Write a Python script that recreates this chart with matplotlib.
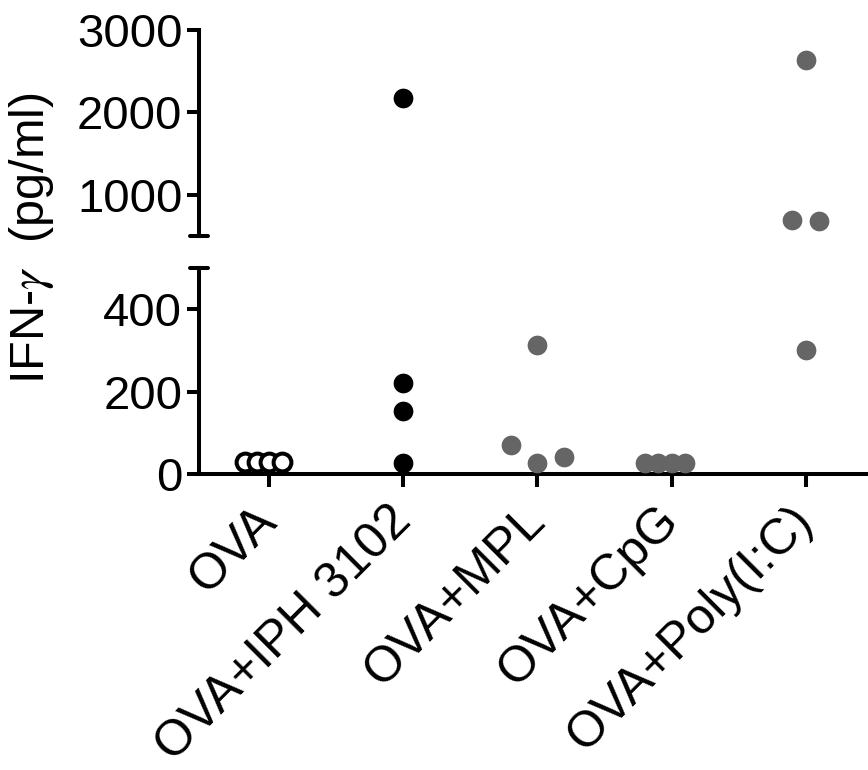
import matplotlib

matplotlib.use("Agg")

import matplotlib.pyplot as plt
from matplotlib.transforms import ScaledTranslation

plt.rcParams["font.family"] = ["Liberation Sans", "DejaVu Sans"]
plt.rcParams["mathtext.fontset"] = "stix"

# categories and tick labels
groups = ["OVA", "OVA+IPH 3102", "OVA+MPL", "OVA+CpG", "OVA+Poly(I:C)"]
upper_ticks = [1000, 2000, 3000]
lower_ticks = [0, 200, 400]

# per-group values (pg/ml) and horizontal scatter offsets (category units)
ova_vals = [29, 29, 29, 29]
ova_dx = [-0.18, -0.09, 0.0, 0.1]
iph_vals = [2170, 222, 154, 27]
iph_dx = [0.0, 0.0, 0.0, 0.0]
mpl_vals = [314, 71, 27, 41]
mpl_dx = [0.0, -0.2, 0.0, 0.2]
cpg_vals = [27, 27, 27, 27]
cpg_dx = [-0.2, -0.1, 0.0, 0.1]
poly_vals = [2630, 700, 680, 300]
poly_dx = [0.0, -0.1, 0.1, 0.0]

BLACK = "#000000"
GREY = "#656565"
LW = 2.9

fig = plt.figure(figsize=(8.68, 7.7), dpi=100)
left = 199 / 868
ax_hi = fig.add_axes([left, (770 - 236) / 770, 1 - left, 206 / 770])
ax_lo = fig.add_axes([left, (770 - 474) / 770, 1 - left, 206 / 770])

xlim = (-0.522, 4.463)
for ax in (ax_hi, ax_lo):
    ax.set_xlim(*xlim)
    for s in ("top", "right"):
        ax.spines[s].set_visible(False)
    ax.spines["left"].set_linewidth(LW)
    ax.spines["bottom"].set_linewidth(LW)
    ax.tick_params(axis="both", width=LW, length=9, labelsize=34, pad=3)
    ax.patch.set_alpha(0)

ax_hi.set_ylim(500, 3000)
ax_lo.set_ylim(0, 500)
ax_hi.set_yticks(upper_ticks)
ax_lo.set_yticks(lower_ticks)
ax_hi.spines["bottom"].set_visible(False)
ax_hi.tick_params(axis="x", bottom=False, labelbottom=False)

ax_lo.set_xticks(range(len(groups)))
ax_lo.set_xticklabels(groups, rotation=45, ha="right", rotation_mode="anchor",
                      fontsize=36)
ax_lo.tick_params(axis="x", pad=10)
shift = ScaledTranslation(-16 / 100, 3 / 100, fig.dpi_scale_trans)
for lab in ax_lo.get_xticklabels():
    lab.set_transform(lab.get_transform() + shift)

# break caps
cap = 9 / (868 - 199)
ax_hi.plot([-cap, cap], [0, 0], transform=ax_hi.transAxes, color=BLACK,
           lw=LW, clip_on=False, solid_capstyle="round")
ax_lo.plot([-cap, cap], [1, 1], transform=ax_lo.transAxes, color=BLACK,
           lw=LW, clip_on=False, solid_capstyle="round")

series = [
    (0, ova_vals, ova_dx, "open"),
    (1, iph_vals, iph_dx, BLACK),
    (2, mpl_vals, mpl_dx, GREY),
    (3, cpg_vals, cpg_dx, GREY),
    (4, poly_vals, poly_dx, GREY),
]
for i, vals, dx, col in series:
    xs = [i + d for d in dx]
    for ax in (ax_hi, ax_lo):
        if col == "open":
            ax.plot(xs, vals, "o", ms=12.8, mfc="white", mec=BLACK, mew=2.9,
                    clip_on=True, zorder=3)
        else:
            ax.plot(xs, vals, "o", ms=14.2, mfc=col, mec="none", clip_on=True,
                    zorder=3)

fig.text(32 / 868, 1 - 238 / 770, r"IFN-$\gamma$  (pg/ml)", rotation=90,
         ha="center", va="center", fontsize=35)

fig.savefig("out.png", dpi=100)
